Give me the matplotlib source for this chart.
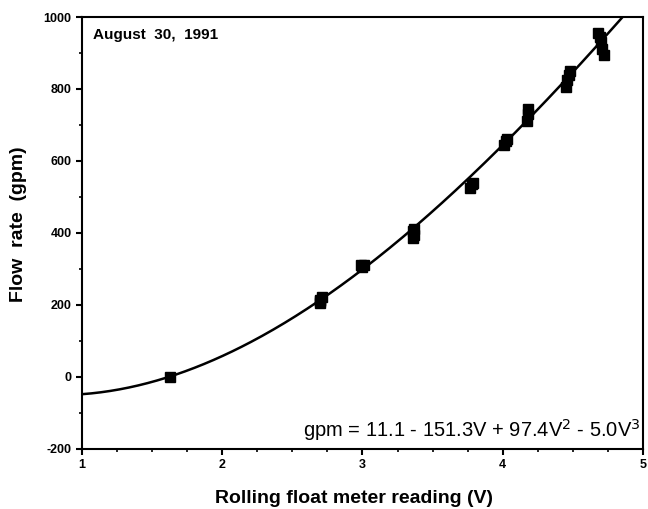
import matplotlib.pyplot as plt
import numpy as np
from matplotlib.ticker import MultipleLocator

volts = [1.63, 2.70, 2.70, 2.71, 2.70, 3.00, 2.99, 3.01, 3.36, 3.37, 3.36, 3.37,
         3.77, 3.78, 3.79, 4.01, 4.02, 4.03, 4.17, 4.18, 4.18,
         4.45, 4.46, 4.47, 4.48, 4.68, 4.69, 4.70, 4.71, 4.72]
flow = [0, 205, 215, 222, 210, 305, 310, 312, 385, 395, 405, 412,
        525, 535, 540, 645, 655, 662, 710, 730, 745,
        805, 825, 840, 850, 955, 945, 930, 910, 895]

# fit from the equation printed on the chart (highest power first)
fit_coef = [-5.0, 97.4, -151.3, 11.1]

plt.rcParams['font.family'] = ['Liberation Sans', 'DejaVu Sans']
plt.rcParams['axes.unicode_minus'] = False

fig = plt.figure(figsize=(6.48, 5.09), dpi=100)
ax = fig.add_axes([0.1265, 0.1179, 0.8658, 0.8487])

vv = np.linspace(1, 5, 300)
ax.plot(vv, np.polyval(fit_coef, vv), color='black', lw=1.8)
ax.plot(volts, flow, 's', color='black', ms=6.5)

ax.set_xlim(1, 5)
ax.set_ylim(-200, 1000)
ax.xaxis.set_major_locator(MultipleLocator(1))
ax.xaxis.set_minor_locator(MultipleLocator(0.25))
ax.yaxis.set_major_locator(MultipleLocator(200))
ax.yaxis.set_minor_locator(MultipleLocator(100))
ax.tick_params(which='major', direction='out', length=4, width=1.5, labelsize=9)
ax.tick_params(which='minor', direction='out', length=2, width=1.2)
for lab in ax.get_xticklabels() + ax.get_yticklabels():
    lab.set_fontweight('bold')
for s in ax.spines.values():
    s.set_linewidth(1.5)

ax.set_xlabel('Rolling float meter reading (V)', fontsize=14, fontweight='bold')
ax.set_ylabel('Flow  rate  (gpm)', fontsize=14, fontweight='bold')
ax.xaxis.set_label_coords(0.485, -0.095)
ax.yaxis.set_label_coords(-0.098, 0.52)

ax.text(0.02, 0.975, 'August  30,  1991', transform=ax.transAxes, fontsize=11,
        fontweight='bold', ha='left', va='top')
ax.text(0.995, 0.015, 'gpm = 11.1 - 151.3V + 97.4V$^2$ - 5.0V$^3$', transform=ax.transAxes,
        fontsize=14.5, ha='right', va='bottom')

fig.savefig('out.png', dpi=100)
